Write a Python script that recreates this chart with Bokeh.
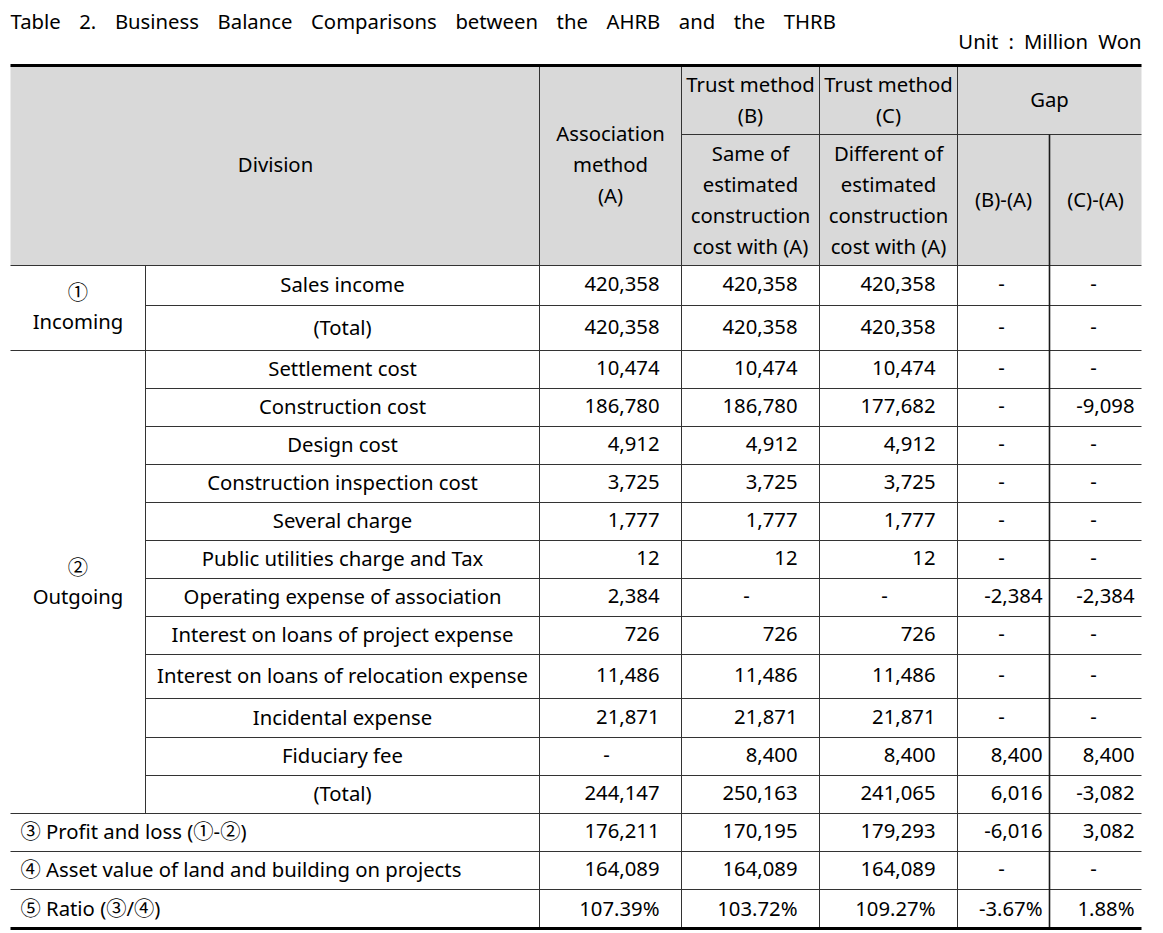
from bokeh.plotting import figure
from bokeh.models import Range1d
from bokeh.core.properties import value
from bokeh.embed import file_html
from bokeh.resources import INLINE

# ---------------- data ----------------
title = "Table 2. Business Balance Comparisons between the AHRB and the THRB"
unit = "Unit : Million Won"

header_division = "Division"
header_assoc = ["Association", "method", "(A)"]
header_trust_b = ["Trust method", "(B)"]
header_trust_c = ["Trust method", "(C)"]
header_trust_b_sub = ["Same of", "estimated", "construction", "cost with (A)"]
header_trust_c_sub = ["Different of", "estimated", "construction", "cost with (A)"]
header_gap = "Gap"
header_gap_sub = ["(B)-(A)", "(C)-(A)"]

group_incoming = ["①", "Incoming"]
group_outgoing = ["②", "Outgoing"]
items = ["Sales income", "(Total)",
         "Settlement cost", "Construction cost", "Design cost",
         "Construction inspection cost", "Several charge",
         "Public utilities charge and Tax", "Operating expense of association",
         "Interest on loans of project expense",
         "Interest on loans of relocation expense", "Incidental expense",
         "Fiduciary fee", "(Total)"]
summary_labels = ["③ Profit and loss (①-②)",
                  "④ Asset value of land and building on projects",
                  "⑤ Ratio (③/④)"]

assoc   = [420358, 420358, 10474, 186780, 4912, 3725, 1777, 12, 2384, 726, 11486, 21871, None, 244147, 176211, 164089]
trust_b = [420358, 420358, 10474, 186780, 4912, 3725, 1777, 12, None, 726, 11486, 21871, 8400, 250163, 170195, 164089]
trust_c = [420358, 420358, 10474, 177682, 4912, 3725, 1777, 12, None, 726, 11486, 21871, 8400, 241065, 179293, 164089]
gap_ba  = [None, None, None, None, None, None, None, None, -2384, None, None, None, 8400, 6016, -6016, None]
gap_ca  = [None, None, None, -9098, None, None, None, None, -2384, None, None, None, 8400, -3082, 3082, None]
ratio   = [107.39, 103.72, 109.27, -3.67, 1.88]   # (A), (B), (C), (B)-(A), (C)-(A)

# ---------------- layout ----------------
FONT = "'Noto Sans', 'Noto Sans CJK KR', sans-serif"
FS = "20.3px"
W, H = 1147, 933
L, R = 10, 1141
TOP, SUB, HB = 65, 134, 265
row_edges = [265, 305, 350, 388, 426, 464, 502, 540, 578, 616, 654, 698, 737, 775, 813, 851, 889, 928]
col_grp, col_a, col_b, col_c, col_g1, col_g2 = 145, 539, 681, 819, 957, 1049
LINE = "#333333"
DY = -1.5  # baseline correction for the font

p = figure(width=W, height=H, x_range=Range1d(0, W), y_range=Range1d(H, 0),
           output_backend="svg", toolbar_location=None, min_border=0,
           x_axis_type=None, y_axis_type=None)
p.grid.visible = False
p.outline_line_color = None
p.background_fill_color = "white"
p.border_fill_color = "white"

# header background
p.quad(left=[L], right=[R], top=[TOP], bottom=[HB], fill_color="#d9d9d9", line_color=None)

def txt(xs, ys, texts, align="center", size=FS):
    p.text(x=xs, y=[v + DY for v in ys], text=texts, text_align=align, text_baseline="middle",
           text_font=value(FONT), text_font_size=size, text_color="black")

# title / unit (wide word spacing as in the original)
txt([10], [22], [title.replace(" ", "\u2002\u2005\u2006")], "left")
txt([R], [42], [unit.replace(" ", "\u2002")], "right")

# header text
LH = 31
txt([275], [165], [header_division])
cx_a = (col_a + col_b) / 2
cx_b = (col_b + col_c) / 2
cx_c = (col_c + col_g1) / 2
cx_g = (col_g1 + R) / 2
cx_g1 = (col_g1 + col_g2) / 2
cx_g2 = (col_g2 + R) / 2
txt([cx_a] * 3, [165 - LH + i * LH for i in range(3)], header_assoc)
txt([cx_b] * 2, [85 + i * LH for i in range(2)], header_trust_b)
txt([cx_c] * 2, [85 + i * LH for i in range(2)], header_trust_c)
txt([cx_b] * 4, [154 + i * LH for i in range(4)], header_trust_b_sub)
txt([cx_c] * 4, [154 + i * LH for i in range(4)], header_trust_c_sub)
txt([cx_g], [100], [header_gap])
txt([cx_g1, cx_g2], [200, 200], header_gap_sub)

# row labels
centers = [(row_edges[i] + row_edges[i + 1]) / 2 for i in range(len(row_edges) - 1)]
cx_item = (col_grp + col_a) / 2
txt([cx_item] * len(items), centers[:len(items)], items)
inc_c = (row_edges[0] + row_edges[2]) / 2
out_c = (row_edges[2] + row_edges[14]) / 2
txt([(L + col_grp) / 2] * 2, [inc_c - 15, inc_c + 14], group_incoming)
txt([(L + col_grp) / 2] * 2, [out_c - 14, out_c + 15], group_outgoing)
txt([20] * 3, centers[14:], summary_labels, "left")

# numbers
def fmt(v):
    return "-" if v is None else f"{v:,}"

def put_col(vals, right, center, extra=None):
    rx, ry, rt, cx, cy, ct = [], [], [], [], [], []
    for v, yc in zip(vals, centers):
        if v is None:
            cx.append(center); cy.append(yc); ct.append("-")
        else:
            rx.append(right); ry.append(yc); rt.append(fmt(v))
    if extra is not None:
        rx.append(right); ry.append(centers[-1]); rt.append(f"{extra:.2f}%")
    txt(rx, ry, rt, "right")
    if ct:
        txt(cx, cy, ct, "center")

put_col(assoc, col_b - 22, cx_a - 4, ratio[0])
put_col(trust_b, col_c - 22, cx_b - 4, ratio[1])
put_col(trust_c, col_g1 - 22, cx_c - 4, ratio[2])
put_col(gap_ba, col_g2 - 7, cx_g1 - 2, ratio[3])
put_col(gap_ca, R - 7, cx_g2 - 2, ratio[4])

# lines
x0, y0, x1, y1 = [], [], [], []
def seg(a, b, c, d):
    x0.append(a); y0.append(b); x1.append(c); y1.append(d)

seg(col_b, SUB, R, SUB)
seg(L, HB, R, HB)
for i, yv in enumerate(row_edges[1:-1], start=1):
    if i in (2, 14, 15, 16):
        seg(L, yv, R, yv)
    else:
        seg(col_grp, yv, R, yv)
seg(col_grp, HB, col_grp, row_edges[14])
for xv in (col_a, col_b, col_c, col_g1):
    seg(xv, TOP, xv, row_edges[-1])
p.segment(x0=x0, y0=y0, x1=x1, y1=y1, line_color=LINE, line_width=1)
p.segment(x0=[col_g2], y0=[SUB], x1=[col_g2], y1=[row_edges[-1]], line_color="#1a1a1a", line_width=1.6)

p.segment(x0=[L, L], y0=[TOP, row_edges[-1]], x1=[R, R], y1=[TOP, row_edges[-1]],
          line_color="black", line_width=3)

open("out.html", "w").write(file_html(p, INLINE))
